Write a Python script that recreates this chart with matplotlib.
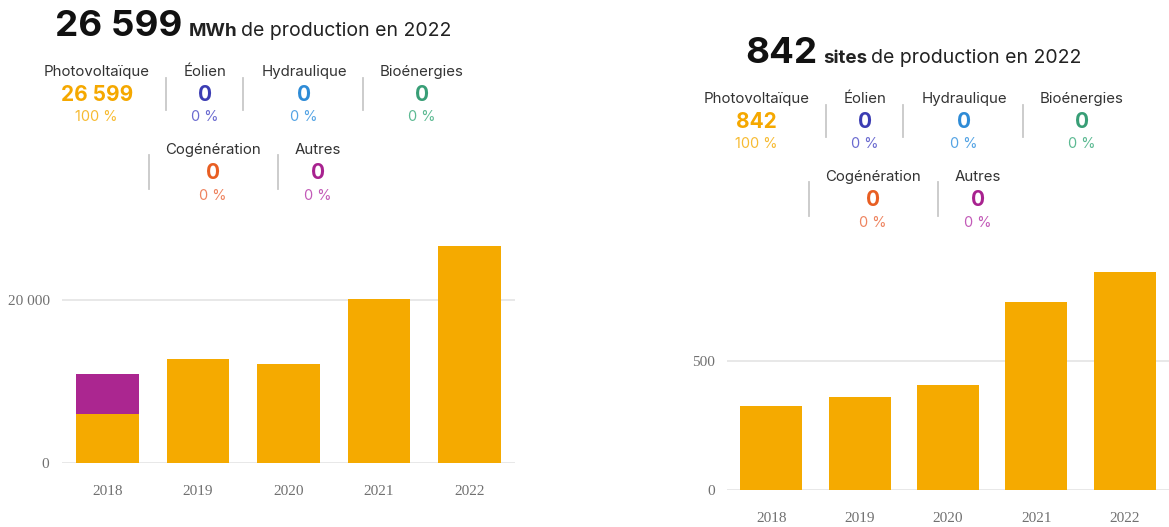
import matplotlib
matplotlib.use("Agg")
import matplotlib.pyplot as plt
from matplotlib.lines import Line2D

# ---------------- data ----------------
years = ["2018", "2019", "2020", "2021", "2022"]
prod_pv = [6040, 12770, 12070, 20110, 26599]       # MWh
prod_autres = [4810, 0, 0, 0, 0]                  # MWh
sites_pv = [326, 360, 405, 728, 842]

categories = ["Photovoltaïque", "Éolien", "Hydraulique", "Bioénergies", "Cogénération", "Autres"]
prod_values = ["26 599", "0", "0", "0", "0", "0"]
prod_pct = ["100 %", "0 %", "0 %", "0 %", "0 %", "0 %"]
sites_values = ["842", "0", "0", "0", "0", "0"]
sites_pct = ["100 %", "0 %", "0 %", "0 %", "0 %", "0 %"]

prod_ticks = [0, 20000]
prod_ticklabels = ["0", "20 000"]
sites_ticks = [0, 500]
sites_ticklabels = ["0", "500"]

# ---------------- styles ----------------
val_colors = ["#F5A800", "#3B3CB3", "#2E8BD6", "#389E76", "#E85E22", "#A8228F"]
pct_colors = ["#F7BB33", "#6B6BD0", "#55A4E4", "#5DBA93", "#EE8460", "#C35BB8"]
PV = "#F5AA00"
AUT = "#AB2690"
SANS = ["Inter", "DejaVu Sans"]
SERIF = ["Liberation Serif", "DejaVu Serif"]

W, H = 1169, 527
fig = plt.figure(figsize=(W / 100, H / 100), dpi=100)
fig.patch.set_facecolor("white")


def fx(x):
    return x / W


def fy(y):
    return 1 - y / H


renderer = fig.canvas.get_renderer()


def title(x, ybase, big, unit, rest):
    t1 = fig.text(fx(x), fy(ybase), big, fontsize=26.5, fontweight="bold",
                  family=SANS, color="#111111", va="baseline", ha="left")
    bb = t1.get_window_extent(renderer)
    x2 = bb.x1 + 6
    t2 = fig.text(x2 / W, fy(ybase), unit, fontsize=13.5, fontweight="bold",
                  family=SANS, color="#222222", va="baseline", ha="left")
    bb2 = t2.get_window_extent(renderer)
    x3 = bb2.x1 + 4
    fig.text(x3 / W, fy(ybase), rest, fontsize=14, family=SANS,
             color="#222222", va="baseline", ha="left")


def block(dx, dy, values, pcts):
    cx = [96.7, 205, 304, 422, 213, 318]
    rows = [0, 0, 0, 0, 1, 1]
    row_y = [(72, 95, 117), (150, 173, 196)]
    for i, cat in enumerate(categories):
        ly, vy, py = row_y[rows[i]]
        x = cx[i] + dx
        fig.text(fx(x), fy(ly + dy), cat, fontsize=10.8, family=SANS,
                 color="#333333", ha="center", va="center")
        fig.text(fx(x), fy(vy + dy), values[i], fontsize=15, fontweight="bold",
                 family=SANS, color=val_colors[i], ha="center", va="center")
        fig.text(fx(x), fy(py + dy), pcts[i], fontsize=10.5, family=SANS,
                 color=pct_colors[i], ha="center", va="center")
    for sx in [166, 243, 363]:
        fig.add_artist(Line2D([fx(sx + dx)] * 2, [fy(78 + dy), fy(110 + dy)],
                              color="#c8c8c8", lw=1.3))
    for sx in [149, 278]:
        fig.add_artist(Line2D([fx(sx + dx)] * 2, [fy(155 + dy), fy(189 + dy)],
                              color="#c8c8c8", lw=1.3))


title(55, 36, "26 599", "MWh", "de production en 2022")
title(745, 63, "842", "sites", "de production en 2022")
block(0, 0, prod_values, prod_pct)
block(660, 27, sites_values, sites_pct)


def style_axes(ax, ticks, ticklabels):
    for s in ax.spines.values():
        s.set_visible(False)
    ax.set_yticks(ticks)
    ax.set_yticklabels(ticklabels)
    ax.tick_params(axis="both", length=0, labelcolor="#707070", labelsize=11)
    ax.tick_params(axis="x", pad=16)
    ax.tick_params(axis="y", pad=9)
    for lab in ax.get_xticklabels() + ax.get_yticklabels():
        lab.set_family(SERIF)
    ax.yaxis.grid(True, color="#e6e6e6", lw=1.3)
    ax.set_axisbelow(True)
    ax.set_xlim(-0.5, 4.5)
    ax.set_facecolor("none")


# left chart
ymax_l = 28000
px_per_unit_l = 163.3 / 20000
hl = ymax_l * px_per_unit_l
ax1 = fig.add_axes([fx(62), (H - 463) / H, (515 - 62) / W, hl / H])
x = range(len(years))
ax1.bar(x, prod_pv, width=0.69, color=PV, edgecolor="none")
ax1.bar(x, prod_autres, width=0.69, bottom=prod_pv, color=AUT, edgecolor="none")
ax1.set_xticks(list(x))
ax1.set_xticklabels(years)
ax1.set_ylim(0, ymax_l)
style_axes(ax1, prod_ticks, prod_ticklabels)

# right chart
ymax_r = 900
px_per_unit_r = 129.3 / 500
hr = ymax_r * px_per_unit_r
ax2 = fig.add_axes([fx(727), (H - 490) / H, (1169 - 727) / W, hr / H])
ax2.bar(x, sites_pv, width=0.70, color=PV, edgecolor="none")
ax2.set_xticks(list(x))
ax2.set_xticklabels(years)
ax2.set_ylim(0, ymax_r)
style_axes(ax2, sites_ticks, sites_ticklabels)

fig.savefig("out.png", dpi=100, facecolor="white")
